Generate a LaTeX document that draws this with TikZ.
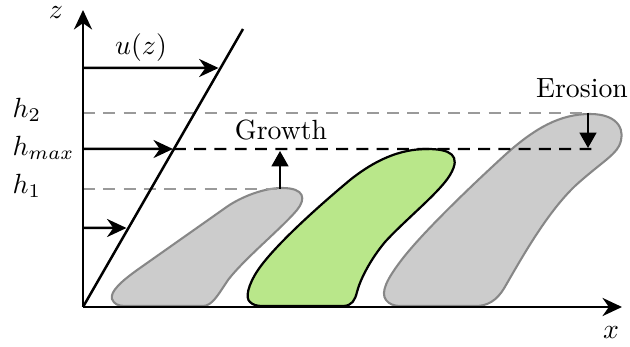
\documentclass[tikz,border=0pt]{standalone}
\usetikzlibrary{arrows.meta,calc}
\definecolor{shapegray}{HTML}{CCCCCC}
\definecolor{edgegray}{HTML}{878787}
\definecolor{dashgray}{HTML}{9A9A9A}
\definecolor{grassgreen}{HTML}{B9E78A}
\begin{document}
\begin{tikzpicture}[x=0.36pt,y=-0.36pt,
  axisline/.style={line width=1.05pt,-{Stealth[length=7pt,width=6.5pt]}},
  windarrow/.style={line width=0.9pt,-{Stealth[length=7pt,width=6.5pt]}},
  smallarrow/.style={line width=0.8pt,-{Triangle[length=5.5pt,width=6pt]}},
  graydash/.style={dashgray,line width=0.75pt,dash pattern=on 4.3pt off 3pt},
  blackdash/.style={black,line width=0.8pt,dash pattern=on 4.3pt off 3pt},
  dune/.style={fill=shapegray,draw=edgegray,line width=0.75pt},
  growdune/.style={fill=grassgreen,draw=black,line width=0.8pt},
  lbl/.style={inner sep=0pt}]
\useasboundingbox (0,0) rectangle (630,347);

% dunes
\draw[dune] (125,306) -- (203,306)
  .. controls (212,306) and (218,295) .. (228,280)
  .. controls (245,258) and (282,228) .. (297,210)
  .. controls (306,199) and (305,188) .. (282,188)
  .. controls (262,188) and (240,198) .. (228,206)
  -- (140,268)
  .. controls (120,282) and (110,292) .. (112,299)
  .. controls (114,304) and (118,306) .. (125,306) -- cycle;
\draw[growdune] (262,306) -- (343,306)
  .. controls (352,306) and (355,300) .. (357,292)
  .. controls (360,280) and (370,260) .. (385,242)
  .. controls (405,220) and (440,192) .. (450,175)
  .. controls (462,155) and (450,149) .. (427,149)
  .. controls (400,149) and (375,160) .. (350,180)
  .. controls (320,205) and (275,245) .. (258,270)
  .. controls (248,285) and (245,298) .. (250,302)
  .. controls (253,305) and (257,306) .. (262,306) -- cycle;
\draw[dune] (400,306) -- (478,306)
  .. controls (492,305) and (500,296) .. (506,285)
  .. controls (525,252) and (548,212) .. (575,186)
  .. controls (598,165) and (614,156) .. (619,146)
  .. controls (626,132) and (620,114) .. (590,114)
  .. controls (560,114) and (535,128) .. (505,155)
  .. controls (470,187) and (420,235) .. (400,262)
  .. controls (388,278) and (380,292) .. (386,300)
  .. controls (389,304) and (394,306) .. (400,306) -- cycle;

% coordinates
\coordinate (O) at (83,307);
\coordinate (Ztip) at (83,10);
\coordinate (Xtip) at (622,307);
\coordinate (L) at (243,29);
\coordinate (H2) at (83,113);
\coordinate (Hm) at (83,149);
\coordinate (H1) at (83,189);
\coordinate (U3) at (83,68);
\coordinate (U1) at (83,228);
\coordinate (Hmline) at ($(O)!158/278!(L)$);
\coordinate (U3line) at ($(O)!239/278!(L)$);
\coordinate (U1line) at ($(O)!79/278!(L)$);
\coordinate (H2end) at (585,113);
\coordinate (Hmend) at (598,149);
\coordinate (H1end) at (280,189);
\coordinate (Gtip) at (280,151);
\coordinate (Etop) at (588,113);
\coordinate (Etip) at (588,148);

% reference lines
\draw[graydash] (H2) -- (H2end);
\draw[graydash] (H1) -- (H1end);
\draw[blackdash] (Hmline) -- (Hmend);

% axes and profile
\draw[axisline] (O) -- (Ztip);
\draw[axisline] (O) -- (Xtip);
\draw[line width=0.9pt] (O) -- (L);
\draw[windarrow] (U3) -- ($(U3line)+(-2,0)$);
\draw[windarrow] (Hm) -- ($(Hmline)+(-1,0)$);
\draw[windarrow] (U1) -- ($(U1line)+(-2,0)$);

% growth / erosion
\draw[smallarrow] (H1end) -- (Gtip);
\draw[smallarrow] (Etop) -- (Etip);

% labels
\node[lbl] (zl) at (56,13) {$z$};
\node[lbl] (xl) at (611,333) {$x$};
\node[lbl] (ul) at (141,48) {$u(z)$};
\node[lbl,anchor=west] (h2l) at (12,110) {$h_2$};
\node[lbl,anchor=west] (hml) at (12,148) {$h_{max}$};
\node[lbl,anchor=west] (h1l) at (12,186) {$h_1$};
\node[lbl] (gl) at (281,130) {Growth};
\node[lbl] (el) at (582,88) {Erosion};
\end{tikzpicture}
\end{document}
